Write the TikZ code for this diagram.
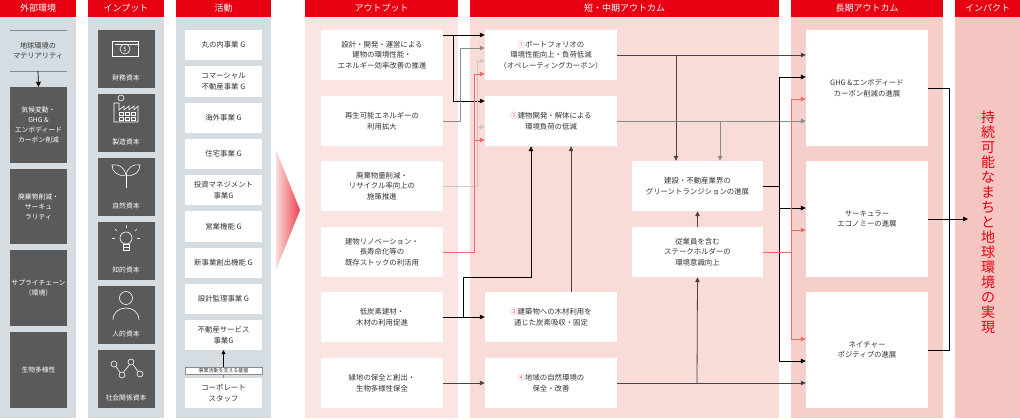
\documentclass[tikz,border=0pt]{standalone}
\usepackage{fontspec}
\setmainfont{Noto Sans CJK JP}
\usetikzlibrary{positioning,arrows.meta}
\definecolor{hdred}{HTML}{E60012}
\definecolor{grayc}{HTML}{D6DDE2}
\definecolor{darkb}{HTML}{5A5A5A}
\definecolor{pinkA}{HTML}{FBE5E2}
\definecolor{pinkB}{HTML}{F9DCD8}
\definecolor{pinkC}{HTML}{F6CFCA}
\definecolor{pinkD}{HTML}{F5C6C1}
\definecolor{txt}{HTML}{333333}
\definecolor{lnred}{HTML}{EE6A6A}
\definecolor{lngray}{HTML}{8A8A8A}
\definecolor{lnlight}{HTML}{C8C8C8}
\definecolor{lndark}{HTML}{444444}
\tikzset{
  hdr/.style={fill=hdred,text=white,minimum height=17,inner sep=0pt,font=\fontsize{9}{10}\selectfont},
  wbox/.style={fill=white,text=txt,align=center,inner sep=1pt,font=\fontsize{7.4}{10.5}\selectfont},
  dbox/.style={fill=darkb,text=white,align=center,inner sep=1pt,minimum width=57,font=\fontsize{6.8}{10}\selectfont},
  ar/.style={-{Triangle[length=5pt,width=4.5pt]},line width=0.8pt},
  ln/.style={line width=0.8pt},
  icon/.style={white,line width=0.6pt}
}
\begin{document}
\begin{tikzpicture}[x=1pt,y=-1pt]
\useasboundingbox (0,0) rectangle (1020,420);
% column backgrounds
\fill[grayc] (0,17) rectangle (76,418);
\fill[grayc] (88,17) rectangle (164,418);
\fill[grayc] (176,17) rectangle (271,418);
\fill[pinkA] (305,17) rectangle (458,418);
\fill[pinkB] (470,17) rectangle (779,418);
\fill[pinkC] (791,17) rectangle (943,418);
\fill[pinkD] (955,17) rectangle (1020,418);
\node[hdr,minimum width=76] (h1) at (38,8.5) {外部環境};
\node[hdr,minimum width=76] (h2) at (126,8.5) {インプット};
\node[hdr,minimum width=95] (h3) at (223.5,8.5) {活動};
\node[hdr,minimum width=153] (h4) at (381.5,8.5) {アウトプット};
\node[hdr,minimum width=309] (h5) at (624.5,8.5) {短・中期アウトカム};
\node[hdr,minimum width=152] (h6) at (867,8.5) {長期アウトカム};
\node[hdr,minimum width=65] (h7) at (987.5,8.5) {インパクト};
\shade[left color=pinkB,right color=hdred!75] (276,150) -- (300,210) -- (276,270) -- cycle;

% external environment
\draw[lngray,line width=0.7pt] (10,30) -- (67,30);
\node[text=txt,align=center,font=\fontsize{7.2}{10.5}\selectfont] (mat) at (38,51) {地球環境の\\マテリアリティ};
\draw[lngray,line width=0.7pt] (10,71) -- (67,71);
\coordinate (m0) at (38,71);
\node[dbox,minimum height=76] (e1) at (38.5,125) {気候変動・\\GHG \&\\エンボディード\\カーボン削減};
\node[dbox,minimum height=75] (e2) at (38.5,206.5) {廃棄物削減・\\サーキュ\\ラリティ};
\node[dbox,minimum height=76] (e3) at (38.5,288) {サプライチェーン\\（環境）};
\node[dbox,minimum height=76] (e4) at (38.5,370) {生物多様性};
\draw[-{Triangle[length=5pt,width=5pt]},line width=0.7pt] (m0) -- (e1.north);

% inputs
\foreach \y/\lab/\nm in {59/財務資本/i1,123/製造資本/i2,187/自然資本/i3,251/知的資本/i4,315/人的資本/i5,379/社会関係資本/i6}{
  \node[dbox,minimum height=58] (\nm) at (126,\y) {};
  \node[text=white,font=\fontsize{6.8}{8}\selectfont] at (126,\y+19) {\lab};
}
% icons
\draw[icon] (112,41) rectangle (138,56); \draw[icon] (115,44) -- (138,44);
\draw[icon] (125,49) circle (5); \node[white,font=\fontsize{6}{6}\selectfont] at (125,49) {\$};
\draw[icon] (114,122) -- (114,103) -- (119,103) -- (119,110) -- (124,106) -- (124,110) -- (129,106) -- (129,110) -- (134,106) -- (134,110) -- (138,106) -- (138,122) -- cycle;
\draw[icon] (121,98) circle (3);
\foreach \wx in {121,127,133}{\draw[icon] (\wx-2,112) rectangle (\wx+2,115); \draw[icon] (\wx-2,117) rectangle (\wx+2,120);}
\draw[icon] (126,188) -- (126,175);
\draw[icon] (126,175) .. controls (124,166) and (118,164) .. (112,165) .. controls (112,172) and (118,177) .. (126,175);
\draw[icon] (126,175) .. controls (128,166) and (134,164) .. (140,165) .. controls (140,172) and (134,177) .. (126,175);
\draw[icon] (126,238) circle (6);
\draw[icon] (123,244) rectangle (129,250); \draw[icon] (123,247) -- (129,247);
\foreach \ax/\ay/\bx/\by in {126/228/126/225,117/231/115/229,135/231/137/229,115/238/112/238,137/238/140/238}{\draw[icon] (\ax,\ay) -- (\bx,\by);}
\draw[icon] (126,298) circle (6.5);
\draw[icon] (113,320) .. controls (113,304) and (139,304) .. (139,320);
\draw[icon] (114,364) circle (3); \draw[icon] (122,375) circle (3); \draw[icon] (131,362) circle (3); \draw[icon] (140,374) circle (3);
\draw[icon] (115.8,366.4) -- (120.2,372.6); \draw[icon] (123.4,372.3) -- (129.6,364.7); \draw[icon] (132.8,364.4) -- (138.2,371.6);

% activities
\node[wbox,minimum width=77,minimum height=30] (a1) at (223.5,45) {丸の内事業 G};
\node[wbox,minimum width=77,minimum height=31] (a2) at (223.5,81.5) {コマーシャル\\不動産事業 G};
\node[wbox,minimum width=77,minimum height=30] (a3) at (223.5,118) {海外事業 G};
\node[wbox,minimum width=77,minimum height=30] (a4) at (223.5,154) {住宅事業 G};
\node[wbox,minimum width=77,minimum height=30] (a5) at (223.5,190) {投資マネジメント\\事業G};
\node[wbox,minimum width=77,minimum height=31] (a6) at (223.5,226.5) {営業機能 G};
\node[wbox,minimum width=77,minimum height=30] (a7) at (223.5,263) {新事業創出機能 G};
\node[wbox,minimum width=77,minimum height=30] (a8) at (223.5,299) {設計監理事業 G};
\node[wbox,minimum width=77,minimum height=30] (a9) at (223.5,335) {不動産サービス\\事業G};
\node[fill=white,draw=lngray,line width=0.5pt,minimum width=77,minimum height=7,inner sep=0pt,text=txt,font=\fontsize{5}{6}\selectfont] (base) at (223.5,371) {事業活動を支える基盤};
\node[wbox,minimum width=77,minimum height=30] (a10) at (223.5,393) {コーポレート\\スタッフ};
\draw[lngray,line width=0.5pt] (a10.north) -- (base.south);
\draw[-{Triangle[length=4pt,width=4pt]},line width=0.5pt] (base.north) -- (a9.south);

% outputs
\node[wbox,minimum width=122,minimum height=50] (o1) at (382,55) {設計・開発・運営による\\建物の環境性能・\\エネルギー効率改善の推進};
\node[wbox,minimum width=122,minimum height=50] (o2) at (382,121) {再生可能エネルギーの\\利用拡大};
\node[wbox,minimum width=122,minimum height=50] (o3) at (382,186) {廃棄物量削減・\\リサイクル率向上の\\施策推進};
\node[wbox,minimum width=122,minimum height=50] (o4) at (382,252) {建物リノベーション・\\長寿命化等の\\既存ストックの利活用};
\node[wbox,minimum width=122,minimum height=50] (o5) at (382,317) {低炭素建材・\\木材の利用促進};
\node[wbox,minimum width=122,minimum height=50] (o6) at (382,383) {緑地の保全と創出・\\生物多様性保全};

% short / mid term outcomes
\node[wbox,minimum width=132,minimum height=50] (s1) at (551,55) {{\color{lnred}①}ポートフォリオの\\環境性能向上・負荷低減\\（オペレーティングカーボン）};
\node[wbox,minimum width=132,minimum height=50] (s2) at (551,121) {{\color{lnred}②}建物開発・解体による\\環境負荷の低減};
\node[wbox,minimum width=132,minimum height=50] (s3) at (551,317) {{\color{lnred}③}建築物への木材利用を\\通じた炭素吸収・固定};
\node[wbox,minimum width=132,minimum height=50] (s4) at (551,383) {{\color{lnred}④}地域の自然環境の\\保全・改善};
\node[wbox,minimum width=131,minimum height=50] (m1) at (697.5,186) {建設・不動産業界の\\グリーントランジションの進展};
\node[wbox,minimum width=131,minimum height=50] (m2) at (697.5,252) {従業員を含む\\ステークホルダーの\\環境意識向上};

% long term outcomes
\node[wbox,minimum width=122,minimum height=116] (l1) at (867,88) {GHG \&エンボディード\\カーボン削減の進展};
\node[wbox,minimum width=122,minimum height=116] (l2) at (867,219) {サーキュラー\\エコノミーの進展};
\node[wbox,minimum width=122,minimum height=116] (l3) at (867,350) {ネイチャー\\ポジティブの進展};

% impact
\node[text=hdred,align=center,font=\fontsize{14}{15}\selectfont] (imp) at (988,222) {持\\続\\可\\能\\な\\ま\\ち\\と\\地\\球\\環\\境\\の\\実\\現};

% outputs to short / mid term
\draw[ar,black] (o1.east|-0,35) -- (s1.west|-0,35);
\draw[ar,black] (453,35) |- (s2.west|-0,101);
\draw[ar,lngray] (o2.east) -| (460,48) -- (s1.west|-0,48);
\draw[ar,lnlight] (o3.east) -| (477,61) -- (s1.west|-0,61);
\draw[ar,lnlight] (477,127) -- (s2.west|-0,127);
\draw[ar,lnred] (o4.east) -| (474,74) -- (s1.west|-0,74);
\draw[ar,lnred] (474,140) -- (s2.west|-0,140);
\draw[ar,black] (o5.east) -- (s3.west);
\draw[ar,black] (463,317) |- (531,277) -- (s2.south-|531,0);
\draw[ar,lndark] (s3.north-|571,0) -- (s2.south-|571,0);
\draw[ar,lndark] (o6.east) -- (s4.west);

% short / mid term to long term
\draw[ar,lndark] (s4.east) -- (l3.west|-0,383);
\draw[ar,lndark] (697,383) -- (m2.south);
\draw[ar,lndark] (m2.north) -- (m1.south);
\draw[ar,lndark] (s1.east) -- (l1.west|-0,55);
\draw[ar,lndark] (676,55) -- (m1.north-|676,0);
\draw[ar,lngray] (s2.east) -- (l1.west|-0,121);
\draw[ar,lngray] (720,121) -- (m1.north-|720,0);
\draw[ln,black] (m1.east) -- (779,186);
\draw[ln,black] (779,77) -- (779,361);
\draw[ar,black] (779,77) -- (l1.west|-0,77);
\draw[ar,black] (779,208) -- (l2.west|-0,208);
\draw[ar,black] (779,361) -- (l3.west|-0,361);
\draw[ln,lnred] (m2.east) -- (791,252);
\draw[ln,lnred] (791,99) -- (791,339);
\draw[ar,lnred] (791,99) -- (l1.west|-0,99);
\draw[ar,lnred] (791,230) -- (l2.west|-0,230);
\draw[ar,lnred] (791,339) -- (l3.west|-0,339);

% long term to impact
\draw[ln,black] (l1.east) -| (949,350) -- (l3.east);
\draw[ar,black] (l2.east) -- (968,219);
\end{tikzpicture}
\end{document}
